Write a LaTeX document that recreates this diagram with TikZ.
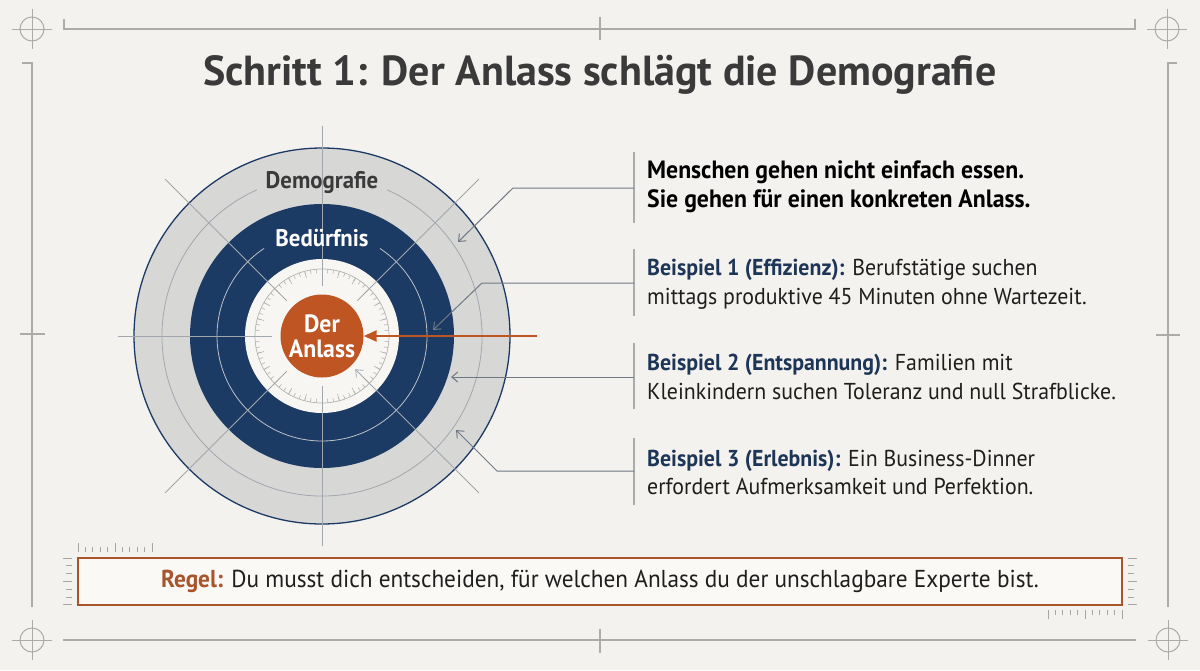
\documentclass[tikz,border=0pt]{standalone}
\usepackage{fontspec}
\setmainfont{PT Sans}[FakeStretch=0.95]
\newfontfamily\titlefont{PT Sans}
\usetikzlibrary{arrows.meta}
\definecolor{bg}{HTML}{F3F2EE}
\definecolor{navy}{HTML}{1B3A64}
\definecolor{ringgrey}{HTML}{D7D7D6}
\definecolor{orng}{HTML}{BF5522}
\definecolor{framegrey}{HTML}{ABABAB}
\definecolor{linegrey}{HTML}{A2A7AE}
\definecolor{conngrey}{HTML}{6F7884}
\definecolor{txtnavy}{HTML}{1D3557}
\definecolor{titlegrey}{HTML}{3A3A3A}
\definecolor{boxbrown}{HTML}{A9552C}
\definecolor{innerwhite}{HTML}{F7F6F2}
\definecolor{boxfill}{HTML}{FAF9F6}
\definecolor{txtdark}{HTML}{1E1E1E}
\tikzset{
  framel/.style={draw=framegrey, line width=1.2pt},
  crossmark/.style={draw=framegrey, line width=1pt},
  thinl/.style={draw=linegrey, line width=0.8pt},
  conn/.style={draw=conngrey, line width=1pt, -{Straight Barb[length=6pt,width=10pt]}},
  bracketl/.style={draw=framegrey, line width=1.2pt},
  rulerl/.style={draw=gray!70, line width=0.9pt},
  bodytxt/.style={anchor=west, inner sep=0pt, align=left, text=txtdark, font=\fontsize{23}{28.5}\selectfont},
}
\begin{document}
\begin{tikzpicture}[x=1pt,y=-1pt]
\useasboundingbox[fill=bg] (0,0) rectangle (1200,670);

% ---- frame ----
\draw[framel] (64,19) -- (64,29) -- (1135,29) -- (1135,19);
\draw[framel] (22,63) -- (32,63) -- (32,607);
\draw[framel] (1177,63) -- (1168,63) -- (1168,607);
\draw[framel] (63,640) -- (1136,640);
\draw[framel] (600,17) -- (600,40);
\draw[framel] (600,629) -- (600,653);
\draw[framel] (20,334) -- (45,334);
\draw[framel] (1156,335) -- (1180,335);
\foreach \p in {(32,29),(1167,29),(32,640),(1168,640)}{
  \draw[crossmark] \p circle (12);
  \draw[crossmark] \p ++(-20,0) -- ++(40,0);
  \draw[crossmark] \p ++(0,-20) -- ++(0,40);
}

% ---- title ----
\node[text=titlegrey, font=\titlefont\bfseries\fontsize{42}{48}\selectfont] (title) at (600,75) {Schritt 1: Der Anlass schlägt die Demografie};

% ---- target ----
\coordinate (C) at (322,336);
\fill[ringgrey, draw=navy, line width=1.3pt] (C) circle (188);
\fill[navy] (C) circle (132);
\fill[innerwhite] (C) circle (77);
\draw[thinl] (C) ++(-66:160) arc[start angle=-66, end angle=246, radius=160];
\draw[draw=linegrey!70!white, line width=0.8pt] (C) ++(-56.5:105) arc[start angle=-56.5, end angle=236.5, radius=105];
% dial
\draw[draw=gray!60, line width=0.7pt] (C) circle (67);
\foreach \a in {0,5,...,355}{
  \draw[draw=gray!60, line width=0.6pt] (C) ++(\a:67) -- ++(\a+180:4);
}
\foreach \a in {0,15,...,345}{
  \draw[draw=gray!60, line width=0.6pt] (C) ++(\a:67) -- ++(\a+180:7);
}
% cross lines
\foreach \a/\r in {90/210,135/222,180/204,225/222,270/210,315/222}{
  \draw[thinl] (C) ++(\a:50) -- ++(\a:\r-50);
}
\draw[thinl, {Straight Barb[length=6pt,width=10pt]}-] (C) ++(45:47) -- ++(45:175);

% labels
\node[text=titlegrey, font=\bfseries\fontsize{24}{26}\selectfont, inner sep=1pt] (demo) at (322,183) {Demografie};
\node[text=white, font=\bfseries\fontsize{24}{26}\selectfont, inner sep=1pt] (bed) at (322,238) {Bedürfnis};
\node[circle, fill=orng, minimum size=83pt, inner sep=0pt, text=white, align=center, font=\bfseries\fontsize{25}{25}\selectfont] (anlass) at (C) {Der\\Anlass};

% orange arrow
\coordinate (oa) at (537,336);
\draw[orng, line width=2.4pt, -{Triangle[length=13pt,width=11pt]}] (oa) -- (anlass.east);

% ---- right texts ----
\node[bodytxt, font=\bfseries\fontsize{25}{29}\selectfont, text=black] (t0) at (647,186.5) {Menschen gehen nicht einfach essen.\\Sie gehen für einen konkreten Anlass.};
\node[bodytxt] (t1) at (647,284) {\textcolor{txtnavy}{\bfseries Beispiel 1 (Effizienz):} Berufstätige suchen\\mittags produktive 45 Minuten ohne Wartezeit.};
\node[bodytxt] (t2) at (647,377) {\textcolor{txtnavy}{\bfseries Beispiel 2 (Entspannung):} Familien mit\\Kleinkindern suchen Toleranz und null Strafblicke.};
\node[bodytxt] (t3) at (647,472.5) {\textcolor{txtnavy}{\bfseries Beispiel 3 (Erlebnis):} Ein Business-Dinner\\erfordert Aufmerksamkeit und Perfektion.};

% brackets
\draw[bracketl] (634,152) -- (634,223);
\draw[bracketl] (634,249) -- (634,316);
\draw[bracketl] (634,343) -- (634,409);
\draw[bracketl] (634,438) -- (634,505);

% connectors
\coordinate (b0) at (634,188); \coordinate (k0) at (513,188); \coordinate (a0) at (458,242);
\coordinate (b1) at (634,283); \coordinate (k1) at (482,283); \coordinate (a1) at (433,330);
\coordinate (b2) at (634,377); \coordinate (a2) at (451,377);
\coordinate (b3) at (634,471); \coordinate (k3) at (497,471); \coordinate (a3) at (456,430);
\draw[conn] (b0) -- (k0) -- (a0);
\draw[conn] (b1) -- (k1) -- (a1);
\draw[conn] (b2) -- (a2);
\draw[conn] (b3) -- (k3) -- (a3);

% ---- rule box ----
\node[draw=boxbrown, line width=2.3pt, fill=boxfill, minimum width=1044pt, minimum height=47pt, inner sep=0pt, text=txtdark, font=\fontsize{24.5}{28}\selectfont] (regel) at (600,581.5) {\textcolor{boxbrown}{\bfseries Regel:} Du musst dich entscheiden, für welchen Anlass du der unschlagbare Experte bist.};

% rulers
\foreach \i in {0,...,10}{
  \pgfmathsetmacro\h{mod(\i,5)==0 ? 9 : 5}
  \draw[rulerl] (78+7.4*\i,552) -- ++(0,-\h);
}
\foreach \i in {0,...,10}{
  \pgfmathsetmacro\h{mod(\i,5)==0 ? 9 : 5}
  \draw[rulerl] (1048+7.4*\i,610) -- ++(0,\h);
}
\foreach \i in {0,...,6}{
  \pgfmathsetmacro\h{mod(\i,3)==0 ? 9 : 6}
  \draw[rulerl] (72,558+7.8*\i) -- ++(-\h,0);
  \draw[rulerl] (1128,558+7.8*\i) -- ++(\h,0);
}
\end{tikzpicture}
\end{document}
